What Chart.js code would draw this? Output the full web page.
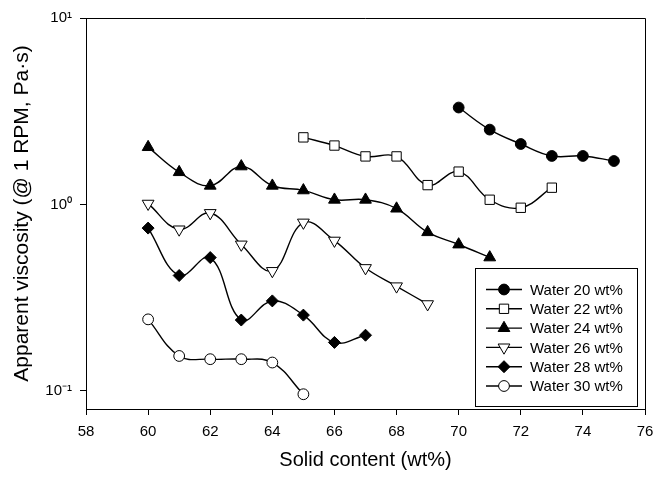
<!DOCTYPE html>
<html>
<head>
<meta charset="utf-8">
<script src="https://cdn.jsdelivr.net/npm/chart.js@4/dist/chart.umd.min.js"></script>
<style>
  html, body { margin: 0; padding: 0; background: #fff; }
  #wrap { width: 670px; height: 477px; position: relative; }
</style>
</head>
<body>
<div id="wrap"><canvas id="c" width="670" height="477"></canvas></div>
<script>
// ---- Data ----
const seriesLabels = ['Water 20 wt%', 'Water 22 wt%', 'Water 24 wt%', 'Water 26 wt%', 'Water 28 wt%', 'Water 30 wt%'];

const solid20 = [70, 71, 72, 73, 74, 75];
const visc20  = [3.31, 2.52, 2.11, 1.82, 1.82, 1.71];

const solid22 = [65, 66, 67, 68, 69, 70, 71, 72, 73];
const visc22  = [2.29, 2.07, 1.81, 1.81, 1.27, 1.50, 1.06, 0.96, 1.23];

const solid24 = [60, 61, 62, 63, 64, 65, 66, 67, 68, 69, 70, 71];
const visc24  = [2.03, 1.49, 1.26, 1.60, 1.26, 1.19, 1.06, 1.06, 0.95, 0.71, 0.61, 0.52];

const solid26 = [60, 61, 62, 63, 64, 65, 66, 67, 68, 69];
const visc26  = [1.01, 0.735, 0.90, 0.61, 0.44, 0.80, 0.64, 0.456, 0.364, 0.292];

const solid28 = [60, 61, 62, 63, 64, 65, 66, 67];
const visc28  = [0.747, 0.416, 0.519, 0.240, 0.304, 0.255, 0.182, 0.199];

const solid30 = [60, 61, 62, 63, 64, 65];
const visc30  = [0.242, 0.154, 0.148, 0.148, 0.142, 0.096];

const xTicks = [58, 60, 62, 64, 66, 68, 70, 72, 74, 76];
const yTicks = [0.1, 1, 10];
const yTickLabels = ['10\u207B\u00B9', '10\u2070', '10\u00B9'];

function pts(xs, ys) { return xs.map((x, i) => ({ x: x, y: ys[i] })); }

const styles = [
  { pointStyle: 'circle',   fill: '#000', radius: 5.4, rotation: 0 },
  { pointStyle: 'rect',     fill: '#fff', radius: 6.6, rotation: 0 },
  { pointStyle: 'triangle', fill: '#000', radius: 6.8, rotation: 0 },
  { pointStyle: 'triangle', fill: '#fff', radius: 6.8, rotation: 180 },
  { pointStyle: 'rectRot',  fill: '#000', radius: 6.0, rotation: 0 },
  { pointStyle: 'circle',   fill: '#fff', radius: 5.4, rotation: 0 }
];

const allData = [
  pts(solid20, visc20), pts(solid22, visc22), pts(solid24, visc24),
  pts(solid26, visc26), pts(solid28, visc28), pts(solid30, visc30)
];

const datasets = allData.map((d, i) => ({
  label: seriesLabels[i],
  data: d,
  borderColor: '#000',
  borderWidth: 1.4,
  backgroundColor: styles[i].fill,
  pointStyle: styles[i].pointStyle,
  pointRadius: styles[i].radius,
  pointRotation: styles[i].rotation,
  pointBackgroundColor: styles[i].fill,
  pointBorderColor: '#000',
  pointBorderWidth: 1,
  tension: 0.4,
  fill: false
}));

const FONT = "'Liberation Sans', Arial, sans-serif";

const framePlugin = {
  id: 'frame',
  afterDraw(chart) {
    const ctx = chart.ctx;
    const a = chart.chartArea;
    ctx.save();
    ctx.strokeStyle = '#000';
    ctx.lineWidth = 1;
    ctx.beginPath();
    ctx.moveTo(a.left, a.top + 0.5);
    ctx.lineTo(a.right + 0.5, a.top + 0.5);
    ctx.lineTo(a.right + 0.5, a.bottom);
    ctx.stroke();

    // legend box inside plot
    const bx = a.right - 170, by = a.bottom - 141, bw = 162, bh = 138;
    ctx.fillStyle = '#fff';
    ctx.fillRect(bx, by, bw, bh);
    ctx.strokeRect(bx + 0.5, by + 0.5, bw, bh);
    ctx.font = '15px ' + FONT;
    ctx.textBaseline = 'middle';
    ctx.textAlign = 'left';
    chart.data.datasets.forEach((ds, i) => {
      const y = by + 21.5 + i * 19.3;
      ctx.strokeStyle = '#000';
      ctx.lineWidth = 1.4;
      ctx.beginPath();
      ctx.moveTo(bx + 11, y);
      ctx.lineTo(bx + 47, y);
      ctx.stroke();
      ctx.fillStyle = ds.pointBackgroundColor;
      ctx.lineWidth = 1;
      Chart.helpers.drawPoint(ctx, {
        pointStyle: ds.pointStyle,
        rotation: ds.pointRotation,
        radius: ds.pointRadius,
        borderWidth: 1
      }, bx + 29, y);
      ctx.fillStyle = '#000';
      ctx.fillText(ds.label, bx + 55, y + 1);
    });
    ctx.restore();
  }
};

new Chart(document.getElementById('c'), {
  type: 'line',
  data: { datasets: datasets },
  options: {
    responsive: false,
    animation: false,
    layout: { padding: { left: 0, top: 18, right: 25, bottom: 0 } },
    plugins: { legend: { display: false }, tooltip: { enabled: false } },
    scales: {
      x: {
        type: 'linear',
        min: 58, max: 76,
        afterBuildTicks: s => { s.ticks = xTicks.map(v => ({ value: v })); },
        afterFit: s => { s.height = 68; },
        ticks: { color: '#000', font: { family: FONT, size: 15 }, padding: 8, maxRotation: 0 },
        grid: { drawOnChartArea: false, drawTicks: true, tickLength: 6, color: '#000' },
        border: { display: true, color: '#000', width: 1 },
        title: { display: true, text: 'Solid content (wt%)', color: '#000',
                 font: { family: FONT, size: 20 }, padding: { top: 0, bottom: 5 } }
      },
      y: {
        type: 'logarithmic',
        min: 0.08, max: 10,
        afterBuildTicks: s => { s.ticks = yTicks.map(v => ({ value: v })); },
        afterFit: s => { s.width = 86; },
        ticks: {
          color: '#000', font: { family: FONT, size: 15 }, padding: 8,
          callback: (v) => { const k = yTicks.indexOf(v); return k >= 0 ? yTickLabels[k] : ''; }
        },
        grid: { drawOnChartArea: false, drawTicks: true, tickLength: 6, color: '#000' },
        border: { display: true, color: '#000', width: 1 },
        title: { display: true, text: 'Apparent viscosity (@ 1 RPM, Pa\u00B7s)', color: '#000',
                 font: { family: FONT, size: 21 }, padding: { top: 10, bottom: 0 } }
      }
    }
  },
  plugins: [framePlugin]
});
</script>
</body>
</html>
